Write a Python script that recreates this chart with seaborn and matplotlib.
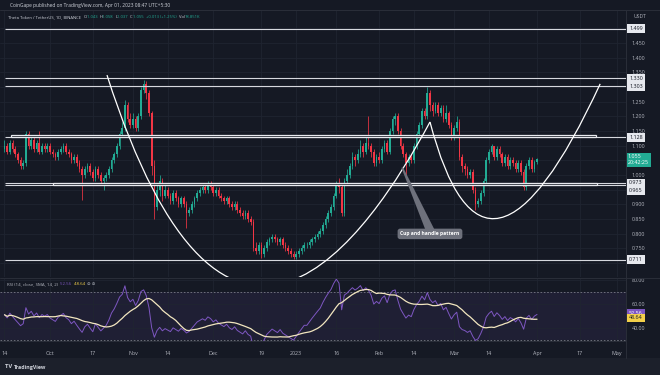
import numpy as np
import pandas as pd
import matplotlib
matplotlib.use("Agg")
import matplotlib.pyplot as plt
import seaborn as sns
from matplotlib.path import Path
from matplotlib.patches import PathPatch, Rectangle, Polygon

# ------------------------------------------------------------------ data
# day index 0 = 2022-09-14 ... 199 = 2023-04-01
tick_days = [0, 17, 33, 48, 61, 78, 96, 109, 124, 140, 153, 168, 181, 199, 215, 229]
tick_labels = ["14", "Oct", "17", "Nov", "14", "Dec", "19", "2023", "16", "Feb",
               "14", "Mar", "14", "Apr", "17", "May"]

first_open = 1.09
close = [1.10, 1.08, 1.11, 1.09, 1.07, 1.05, 1.03, 1.04, 1.14, 1.10,
         1.12, 1.09, 1.11, 1.08, 1.10, 1.09, 1.10, 1.08, 1.07, 1.06,
         1.08, 1.09, 1.10, 1.08, 1.07, 1.05, 1.06, 1.04, 1.02, 1.00,
         1.02, 1.03, 1.01, 0.99, 1.02, 1.00, 0.98, 0.99, 1.00, 1.02,
         1.05, 1.07, 1.10, 1.14, 1.16, 1.24, 1.19, 1.17, 1.19, 1.16,
         1.20, 1.29, 1.31, 1.28, 1.21, 1.03, 0.89, 0.95, 0.98, 0.93,
         0.95, 0.93, 0.91, 0.94, 0.92, 0.90, 0.92, 0.90, 0.87, 0.88,
         0.90, 0.92, 0.94, 0.95, 0.96, 0.95, 0.97, 0.96, 0.94, 0.95,
         0.93, 0.92, 0.91, 0.92, 0.90, 0.89, 0.90, 0.88, 0.87, 0.86,
         0.87, 0.85, 0.84, 0.75, 0.74, 0.76, 0.73, 0.75, 0.77, 0.78,
         0.79, 0.78, 0.77, 0.78, 0.76, 0.75, 0.74, 0.73, 0.72, 0.73,
         0.74, 0.75, 0.76, 0.76, 0.77, 0.78, 0.79, 0.80, 0.81, 0.83,
         0.85, 0.87, 0.89, 0.93, 0.97, 0.96, 0.87, 0.98, 1.00, 1.03,
         1.06, 1.05, 1.07, 1.10, 1.08, 1.11, 1.10, 1.08, 1.04, 1.06,
         1.05, 1.09, 1.11, 1.08, 1.15, 1.19, 1.20, 1.15, 1.10, 1.07,
         1.04, 1.06, 1.05, 1.10, 1.14, 1.17, 1.22, 1.20, 1.28, 1.24,
         1.22, 1.24, 1.21, 1.23, 1.19, 1.21, 1.17, 1.13, 1.16, 1.18,
         1.06, 1.03, 1.02, 1.00, 1.01, 0.95, 0.90, 0.91, 0.94, 0.98,
         1.05, 1.08, 1.10, 1.06, 1.09, 1.07, 1.04, 1.06, 1.03, 1.05,
         1.04, 1.02, 1.04, 1.01, 0.96, 1.03, 1.05, 1.02, 1.043, 1.055]
high = [1.12, 1.11, 1.12, 1.12, 1.10, 1.08, 1.06, 1.05, 1.15, 1.15,
        1.13, 1.13, 1.12, 1.15, 1.11, 1.11, 1.11, 1.11, 1.09, 1.08,
        1.09, 1.10, 1.11, 1.11, 1.09, 1.08, 1.07, 1.07, 1.05, 1.03,
        1.03, 1.04, 1.04, 1.02, 1.03, 1.03, 1.01, 1.00, 1.01, 1.03,
        1.06, 1.08, 1.11, 1.15, 1.18, 1.255, 1.25, 1.21, 1.21, 1.20,
        1.21, 1.30, 1.325, 1.32, 1.29, 1.22, 1.05, 0.97, 1.00, 0.99,
        0.97, 0.96, 0.94, 0.95, 0.95, 0.93, 0.93, 0.93, 0.91, 0.89,
        0.91, 0.93, 0.95, 0.96, 0.97, 0.97, 0.98, 0.98, 0.97, 0.96,
        0.96, 0.94, 0.93, 0.93, 0.93, 0.91, 0.91, 0.91, 0.89, 0.88,
        0.88, 0.88, 0.86, 0.85, 0.77, 0.77, 0.77, 0.76, 0.78, 0.79,
        0.80, 0.80, 0.79, 0.79, 0.79, 0.77, 0.76, 0.75, 0.74, 0.74,
        0.75, 0.76, 0.77, 0.77, 0.78, 0.79, 0.80, 0.81, 0.82, 0.84,
        0.86, 0.88, 0.90, 0.94, 0.98, 0.99, 0.97, 0.99, 1.02, 1.04,
        1.08, 1.07, 1.09, 1.12, 1.11, 1.13, 1.20, 1.11, 1.09, 1.07,
        1.08, 1.10, 1.12, 1.12, 1.16, 1.20, 1.21, 1.21, 1.16, 1.11,
        1.08, 1.07, 1.07, 1.11, 1.15, 1.18, 1.23, 1.23, 1.30, 1.29,
        1.25, 1.25, 1.25, 1.24, 1.24, 1.24, 1.22, 1.18, 1.17, 1.20,
        1.19, 1.07, 1.04, 1.03, 1.02, 1.02, 0.96, 0.92, 0.95, 0.99,
        1.06, 1.09, 1.105, 1.10, 1.10, 1.10, 1.08, 1.07, 1.07, 1.06,
        1.06, 1.05, 1.05, 1.05, 1.02, 1.04, 1.06, 1.06, 1.05, 1.058]
low = [1.08, 1.07, 1.07, 1.08, 1.06, 1.04, 1.02, 1.02, 1.03, 1.09,
       1.09, 1.08, 1.08, 1.07, 1.07, 1.08, 1.08, 1.07, 1.06, 1.05,
       1.05, 1.07, 1.08, 1.07, 1.06, 1.04, 1.04, 1.03, 1.01, 0.915,
       0.99, 1.01, 1.00, 0.98, 0.98, 0.99, 0.97, 0.95, 0.98, 0.99,
       1.01, 1.04, 1.06, 1.09, 1.13, 1.15, 1.18, 1.16, 1.16, 1.15,
       1.15, 1.19, 1.28, 1.26, 1.20, 1.00, 0.85, 0.88, 0.93, 0.91,
       0.92, 0.92, 0.90, 0.90, 0.91, 0.89, 0.89, 0.89, 0.82, 0.86,
       0.87, 0.89, 0.91, 0.93, 0.94, 0.94, 0.94, 0.95, 0.93, 0.93,
       0.92, 0.91, 0.90, 0.90, 0.89, 0.88, 0.88, 0.87, 0.86, 0.85,
       0.85, 0.84, 0.83, 0.74, 0.73, 0.73, 0.717, 0.72, 0.74, 0.76,
       0.77, 0.77, 0.76, 0.76, 0.75, 0.74, 0.73, 0.72, 0.713, 0.715,
       0.72, 0.73, 0.74, 0.75, 0.75, 0.76, 0.77, 0.78, 0.79, 0.80,
       0.82, 0.84, 0.86, 0.88, 0.92, 0.94, 0.86, 0.86, 0.97, 0.99,
       1.02, 1.03, 1.04, 1.06, 1.06, 1.07, 1.09, 1.06, 1.03, 1.03,
       1.04, 1.04, 1.08, 1.07, 1.07, 1.14, 1.17, 1.14, 1.09, 1.06,
       1.00, 1.03, 1.04, 1.04, 1.09, 1.13, 1.16, 1.19, 1.19, 1.22,
       1.20, 1.21, 1.20, 1.20, 1.18, 1.18, 1.16, 1.12, 1.12, 1.15,
       1.05, 1.01, 1.00, 0.99, 0.99, 0.94, 0.88, 0.89, 0.90, 0.93,
       0.97, 1.04, 1.07, 1.05, 1.05, 1.06, 1.03, 1.03, 1.02, 1.02,
       1.03, 1.01, 1.01, 1.00, 0.95, 0.95, 1.02, 1.01, 1.01, 1.037]

# horizontal levels and zones drawn by the author
line_levels = [1.499, 1.330, 1.303, 1.128, 0.973, 0.965, 0.711]
zone_low = [1.128, 0.965]
zone_high = [1.136, 0.973]
zone_start = [2.4, 18.1]
zone_end = [221.0, 221.4]

# cup (cubic bezier) and handle (quadratic bezier) anchors, in (day, price)
cup_pts = [(38.3, 1.341), (82.8, 0.072), (135.8, 0.788), (159.0, 1.181)]
handle_pts = [(159.0, 1.181), (179.6, 0.461), (222.6, 1.311)]

price_ticks = [0.70, 0.75, 0.80, 0.85, 0.90, 0.95, 1.00, 1.05, 1.10, 1.15,
               1.20, 1.25, 1.30, 1.35, 1.40, 1.45, 1.50]
hidden_ticks = [0.70, 0.95, 1.05, 1.30, 1.50]   # covered by the level tags
rsi_ticks = [40, 60, 80]
last_rsi, last_sma = 52.56, 48.64

# ------------------------------------------------------------------ style
BG = "#151924"
GRID = "#1f2431"
TXT = "#b2b5be"
UP, DN = "#22ab94", "#f23645"
W, H = 660, 375

sns.set_theme(style="dark")
plt.rcParams["font.family"] = ["Open Sans", "DejaVu Sans"]

fig = plt.figure(figsize=(6.6, 3.75), dpi=100, facecolor=BG)


def fr(x0, y0, x1, y1):
    return [x0 / W, 1 - y1 / H, (x1 - x0) / W, (y1 - y0) / H]


ax = fig.add_axes(fr(0, 10, 626, 277))
axr = fig.add_axes(fr(0, 278, 626, 341), sharex=ax)
for a in (ax, axr):
    a.set_facecolor(BG)
    for s in a.spines.values():
        s.set_visible(False)
    a.grid(True, color=GRID, lw=0.6)
    a.set_axisbelow(True)

days = np.arange(len(close))
c = np.array(close)
o = np.array([first_open] + close[:-1])
h = np.array(high)
l = np.array(low)
cols = np.where(c >= o, UP, DN)

# candles
ax.vlines(days, l, h, colors=cols, lw=0.55, zorder=2)
ax.bar(days, np.maximum(np.abs(c - o), 0.0025), bottom=np.minimum(o, c),
       width=0.62, color=cols, linewidth=0, zorder=3)

XMIN, XMAX = -1.68, 232.25
ax.set_xlim(XMIN, XMAX)
ax.set_ylim(0.6519, 1.5631)

# levels
ax.hlines(line_levels, 0.2, XMAX, colors="#d6d8de", lw=0.8, zorder=4)
for lo_, hi_, s_, e_ in zip(zone_low, zone_high, zone_start, zone_end):
    ax.add_patch(Rectangle((s_, lo_), e_ - s_, hi_ - lo_, fill=True, fc=BG,
                           ec="#e8e9ee", lw=0.9, zorder=4))

# cup & handle curves
cup = Path(cup_pts, [Path.MOVETO, Path.CURVE4, Path.CURVE4, Path.CURVE4])
ax.add_patch(PathPatch(cup, fill=False, ec="white", lw=0.9, zorder=5))
hd = Path(handle_pts, [Path.MOVETO, Path.CURVE3, Path.CURVE3])
ax.add_patch(PathPatch(hd, fill=False, ec="white", lw=0.9, zorder=5))

# callout
ax.add_patch(Polygon([(148.3, 1.025), (149.0, 1.025), (160.6, 0.815), (157.2, 0.815)],
                     closed=True, fc="#6e717c", ec="none", zorder=6))
ax.text(159.0, 0.799, "Cup and handle pattern", ha="center", va="center",
        fontsize=3.6, color="white", fontweight="bold", zorder=7,
        bbox=dict(boxstyle="round,pad=0.55,rounding_size=0.5", fc="#6e717c", ec="none"))

# price axis
ax.yaxis.tick_right()
ax.set_yticks(price_ticks)
ax.set_yticklabels(["" if v in hidden_ticks else f"{v:.3f}" for v in price_ticks])
ax.tick_params(axis="y", colors=TXT, labelsize=3.9, length=0, pad=4.3)
ax.tick_params(axis="x", labelbottom=False, length=0)
ax.set_xticks(tick_days)

ytr = ax.get_yaxis_transform()
label_shift = {0.965: -5.5}
for lv in line_levels:
    ax.annotate(f"{lv:.3f}", xy=(1.0, lv), xycoords=ytr,
                xytext=(2.2, label_shift.get(lv, 0) * 0.72), textcoords="offset points",
                ha="left", va="center", fontsize=3.9, color="#131722", zorder=10,
                annotation_clip=False,
                bbox=dict(boxstyle="square,pad=0.35", fc="#e6e8ee", ec="none"))
ax.annotate("1.055\n20:42:25", xy=(1.0, close[-1]), xycoords=ytr,
            xytext=(1.4, 3.2), textcoords="offset points", ha="left", va="top",
            fontsize=3.9, color="white", zorder=10, linespacing=1.25,
            annotation_clip=False,
            bbox=dict(boxstyle="square,pad=0.35", fc=UP, ec="none"))
fig.text(634 / W, 1 - 16 / H, "USDT", fontsize=3.6, color=TXT, ha="left", va="center")

# ------------------------------------------------------------------ RSI
# Wilder RSI(14) on the closes (averages seeded neutral), SMA(14) of it
deltas = np.diff(np.concatenate([[first_open], c]))
avg_u, avg_d = 0.015, 0.015
rsi_vals = []
for dlt in deltas:
    avg_u = (avg_u * 13 + max(dlt, 0)) / 14
    avg_d = (avg_d * 13 + max(-dlt, 0)) / 14
    rsi_vals.append(100 - 100 / (1 + avg_u / avg_d))
rsi = pd.Series(rsi_vals)
sma = rsi.rolling(14, min_periods=1).mean()
rdf = pd.DataFrame({"day": days, "rsi": rsi, "sma": sma})

axr.axhspan(30, 70, color="#7e57c2", alpha=0.10, lw=0, zorder=0)
axr.axhline(70, color="#787b86", lw=0.6, ls=(0, (2, 2)), zorder=1)
axr.axhline(30, color="#787b86", lw=0.6, ls=(0, (2, 2)), zorder=1)
sns.lineplot(data=rdf, x="day", y="rsi", ax=axr, color="#7e57c2", lw=0.7, zorder=3)
sns.lineplot(data=rdf, x="day", y="sma", ax=axr, color="#f2e6bf", lw=0.9, zorder=4)
axr.set_xlabel("")
axr.set_ylabel("")
axr.set_ylim(29.5, 81.7)
axr.yaxis.tick_right()
axr.set_yticks(rsi_ticks)
axr.set_yticklabels([f"{v:.2f}" for v in rsi_ticks])
axr.tick_params(axis="y", colors=TXT, labelsize=3.9, length=0, pad=4.3)
axr.set_xticks(tick_days)
axr.set_xticklabels(tick_labels)
axr.tick_params(axis="x", colors=TXT, labelsize=3.9, length=0, pad=7.5)
axr.set_xlim(XMIN, XMAX)
rtr = axr.get_yaxis_transform()
axr.annotate(f"{last_rsi:.2f}", xy=(1.0, last_rsi), xycoords=rtr, xytext=(2.2, 0),
             textcoords="offset points", ha="left", va="center", fontsize=3.9,
             color="white", annotation_clip=False, zorder=10,
             bbox=dict(boxstyle="square,pad=0.35", fc="#7e57c2", ec="none"))
axr.annotate(f"{last_sma:.2f}", xy=(1.0, last_sma), xycoords=rtr, xytext=(2.2, 0),
             textcoords="offset points", ha="left", va="center", fontsize=3.9,
             color="#131722", annotation_clip=False, zorder=10,
             bbox=dict(boxstyle="square,pad=0.35", fc="#f2cf4a", ec="none"))

# ------------------------------------------------------------------ frame
for xs, ys in [([626, 626], [10, 358]), ([0, 660], [277.5, 277.5]), ([0, 626], [341, 341]),
               ([0, 660], [10, 10])]:
    fig.add_artist(plt.Line2D([x / W for x in xs], [1 - y / H for y in ys],
                              color="#2a2e39", lw=0.7, transform=fig.transFigure))
fig.add_artist(Rectangle((0, 0), 1, 17 / H, transform=fig.transFigure,
                         fc="#1c202b", ec="none"))

renderer = fig.canvas.get_renderer()


def seq(xpx, ypx, pieces, size, gap=0.0, weight="normal"):
    x = xpx
    for s, col in pieces:
        t = fig.text(x / W, 1 - ypx / H, s, color=col, fontsize=size, va="center",
                     ha="left", fontweight=weight)
        x += t.get_window_extent(renderer).width + gap
    return x


seq(10, 5.5, [("CoinGape published on TradingView.com, Apr 01, 2023 08:47 UTC+5:30", "#d1d4dc")], 3.5)
G = "#22ab94"
seq(8, 17, [("Theta Token / TetherUS, 1D, BINANCE  ", "#d1d4dc"),
            ("O", "#d1d4dc"), ("1.043  ", G), ("H", "#d1d4dc"), ("1.058  ", G),
            ("L", "#d1d4dc"), ("1.037  ", G), ("C", "#d1d4dc"), ("1.055  ", G),
            ("+0.013 (+1.25%)  ", G), ("Vol", "#d1d4dc"), ("18.851K", G)], 3.0)
seq(7, 284, [("RSI (14, close, SMA, 14, 2)  ", TXT), ("52.56  ", "#7e57c2"),
             ("48.64  ", "#f2cf4a"), ("\u2298 \u2298", TXT)], 3.2)
seq(5, 367, [("TV ", "#d1d4dc")], 4.2, weight="bold")
seq(14, 367, [("TradingView", "#d1d4dc")], 3.8, weight="bold")

fig.savefig("out.png", dpi=100, facecolor=BG)
